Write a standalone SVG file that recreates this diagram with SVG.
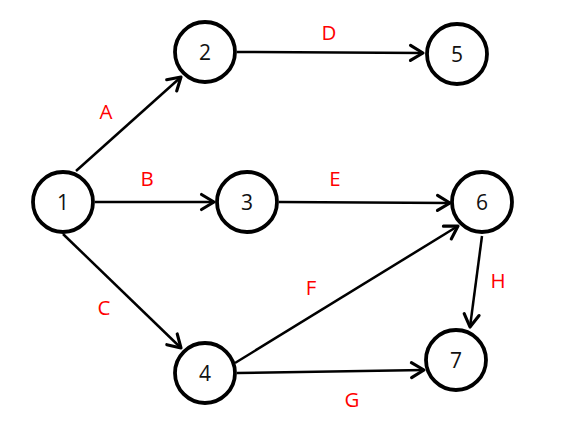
<svg xmlns="http://www.w3.org/2000/svg" width="563" height="433" viewBox="0 0 563 433">
<style>
.node circle{fill:#fff;stroke:#000;stroke-width:3.8}
.node text{font-family:"Open Sans","Liberation Sans",sans-serif;font-size:21px;fill:#111;text-anchor:middle;dominant-baseline:central}
.edges line{stroke:#000;stroke-width:2.5;marker-end:url(#arr)}
.lbl{font-family:"Open Sans","Liberation Sans",sans-serif;font-size:20.5px;fill:#f00;text-anchor:middle;dominant-baseline:central}
</style>
<defs>
<marker id="arr" markerUnits="userSpaceOnUse" markerWidth="20" markerHeight="20" viewBox="-12 -8 14 16" refX="0" refY="0" orient="auto">
<path d="M-10,-6 L0,0 L-10,6" fill="none" stroke="#000" stroke-width="2.5" stroke-linecap="round" stroke-linejoin="round"/>
</marker>
</defs>
<rect width="563" height="433" fill="#fff"/>
<g class="edges" id="connectors">
<line x1="76" y1="171" x2="181" y2="77"/>
<line x1="95" y1="202" x2="214" y2="202"/>
<line x1="63" y1="234" x2="181" y2="348"/>
<line x1="237" y1="52" x2="423" y2="53"/>
<line x1="279" y1="202" x2="450" y2="203"/>
<line x1="235" y1="363" x2="458" y2="226"/>
<line x1="237" y1="373" x2="424" y2="370"/>
<line x1="482" y1="236" x2="470" y2="327"/>
</g>
<g id="labels">
<text class="lbl" x="106" y="111">A</text>
<text class="lbl" x="147" y="178">B</text>
<text class="lbl" x="104" y="307">C</text>
<text class="lbl" x="329" y="32">D</text>
<text class="lbl" x="335" y="178">E</text>
<text class="lbl" x="311" y="287">F</text>
<text class="lbl" x="352" y="399">G</text>
<text class="lbl" x="498" y="280">H</text>
</g>
<g class="node" id="n1"><circle cx="63" cy="202" r="30"/><text x="63" y="202">1</text></g>
<g class="node" id="n2"><circle cx="205" cy="52" r="30"/><text x="205" y="52">2</text></g>
<g class="node" id="n3"><circle cx="247" cy="202" r="30"/><text x="247" y="202">3</text></g>
<g class="node" id="n4"><circle cx="205" cy="373" r="30"/><text x="205" y="373">4</text></g>
<g class="node" id="n5"><circle cx="457" cy="54" r="30"/><text x="457" y="54">5</text></g>
<g class="node" id="n6"><circle cx="482" cy="202" r="30"/><text x="482" y="202">6</text></g>
<g class="node" id="n7"><circle cx="456" cy="360" r="30"/><text x="456" y="360">7</text></g>
</svg>
